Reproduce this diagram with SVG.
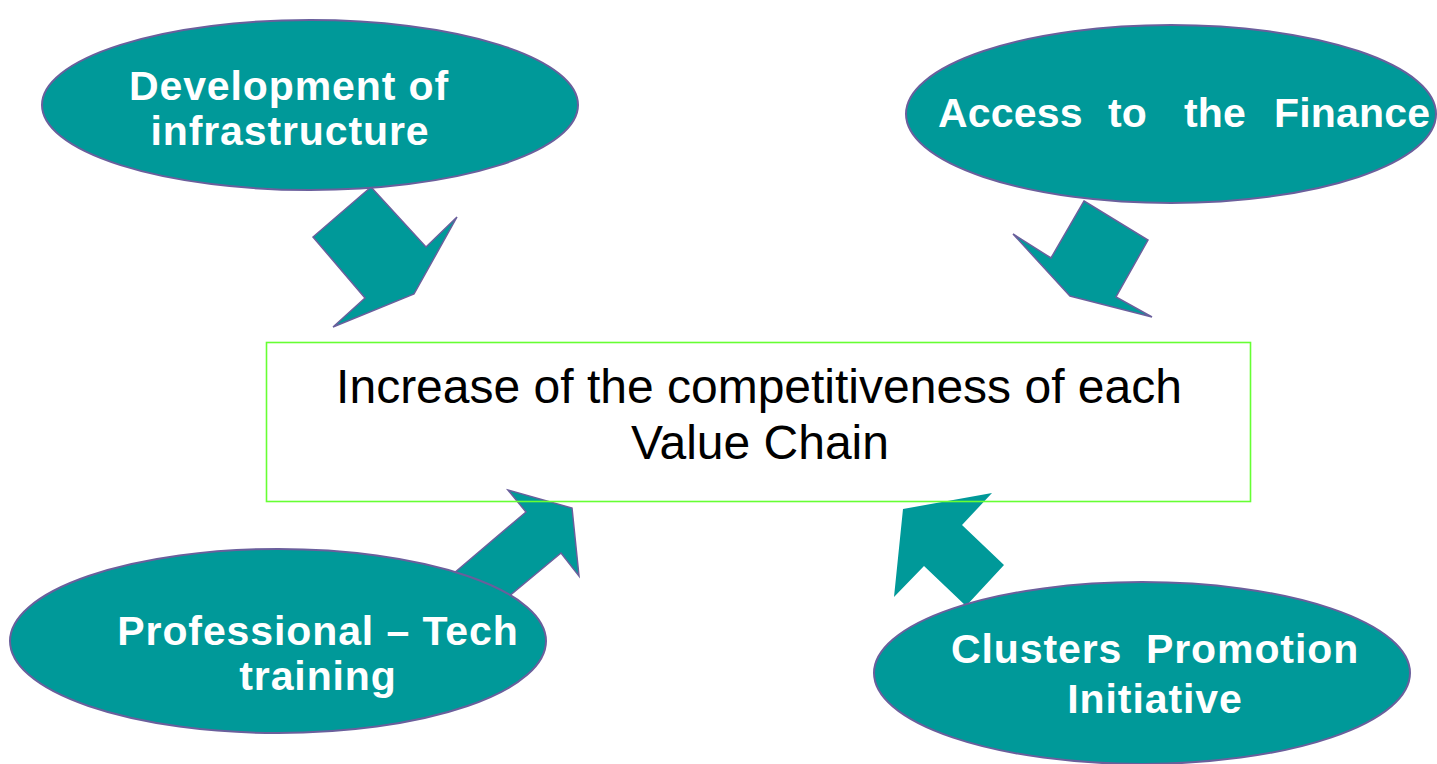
<svg xmlns="http://www.w3.org/2000/svg" width="1437" height="764" viewBox="0 0 1437 764">
  <style>
    .bubble { fill: #009999; stroke: #6a5f9c; stroke-width: 2; }
    .arrow { fill: #009999; stroke: #6a5f9c; stroke-width: 1.5; stroke-linejoin: miter; }
    .arrow-plain { fill: #009999; stroke: none; }
    .label { font-family: "Liberation Sans", Arial, sans-serif; font-weight: bold; font-size: 41px; letter-spacing: 0.9px; fill: #ffffff; }
    .goal-box { fill: none; stroke: #66ff33; stroke-width: 1.6; }
    .goal-text { font-family: "Liberation Sans", Arial, sans-serif; font-size: 48px; fill: #000000; text-anchor: middle; }
  </style>
  <rect width="1437" height="764" fill="#ffffff"/>

  <!-- block arrows pointing into the central goal -->
  <g id="connectors">
    <polygon class="arrow" points="371,187 313,237 365,298 333,327 414,294 457,217 426,247"/>
    <polygon class="arrow" points="1084,201 1148,240 1116,297 1152,317 1070,296 1013,234 1051,258"/>
    <polygon class="arrow" points="440,585 526,512 508,490 572,508 579,576 561,553 490,612"/>
    <polygon class="arrow-plain" points="903,509 992,493 962,525 1004,565 966,606 924,566 894,597"/>
  </g>

  <g id="goal">
    <rect class="goal-box" x="266.5" y="342.5" width="984" height="159"/>
    <text class="goal-text" x="759" y="403">Increase of the competitiveness of each</text>
    <text class="goal-text" x="760" y="459">Value Chain</text>
  </g>

  <g id="node-infrastructure">
    <ellipse class="bubble" cx="310" cy="105" rx="268" ry="85"/>
    <text class="label" x="289" y="100" text-anchor="middle">Development of</text>
    <text class="label" x="290" y="145" text-anchor="middle">infrastructure</text>
  </g>

  <g id="node-finance">
    <ellipse class="bubble" cx="1171" cy="114" rx="265" ry="89"/>
    <text class="label" y="127" style="letter-spacing:0.2px"><tspan x="938">Access</tspan><tspan x="1108">to</tspan><tspan x="1184">the</tspan><tspan x="1274">Finance</tspan></text>
  </g>

  <g id="node-training">
    <ellipse class="bubble" cx="278" cy="641" rx="268" ry="92"/>
    <text class="label" x="318" y="645" text-anchor="middle">Professional – Tech</text>
    <text class="label" x="318" y="690" text-anchor="middle">training</text>
  </g>

  <g id="node-clusters">
    <ellipse class="bubble" cx="1142" cy="673" rx="268" ry="91"/>
    <text class="label" y="663"><tspan x="951">Clusters</tspan><tspan x="1146">Promotion</tspan></text>
    <text class="label" x="1155" y="713" text-anchor="middle">Initiative</text>
  </g>
</svg>
